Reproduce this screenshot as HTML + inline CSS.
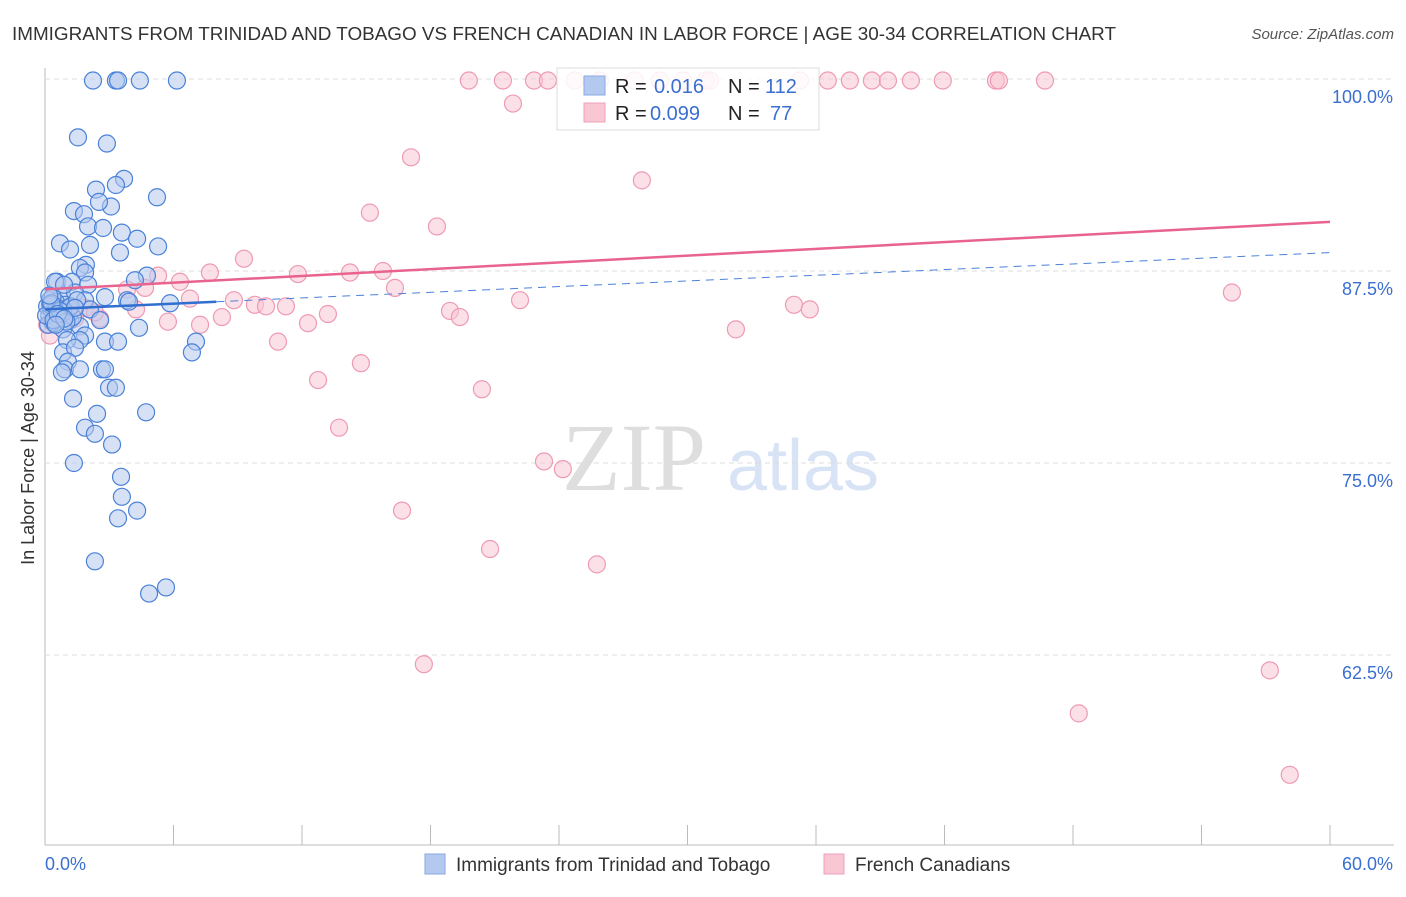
<!DOCTYPE html>
<html><head><meta charset="utf-8"><style>
body{margin:0;background:#fff;font-family:"Liberation Sans",sans-serif}
#c{position:relative;width:1406px;height:892px}
</style></head><body>
<div id="c">
<svg id="s" width="1406" height="892" xmlns="http://www.w3.org/2000/svg">
<text x="12" y="40" font-size="18.5" textLength="1104" lengthAdjust="spacingAndGlyphs" fill="#333" font-family="Liberation Sans">IMMIGRANTS FROM TRINIDAD AND TOBAGO VS FRENCH CANADIAN IN LABOR FORCE | AGE 30-34 CORRELATION CHART</text>
<text x="1394" y="39" font-size="15" fill="#555" font-style="italic" text-anchor="end">Source: ZipAtlas.com</text>
<text x="634" y="490" font-size="96" fill="#dedede" font-family="Liberation Serif" text-anchor="middle">ZIP</text>
<text x="803" y="490" font-size="72" fill="#d8e4f5" text-anchor="middle">atlas</text>
<text transform="translate(34,458) rotate(-90)" font-size="18" fill="#333" text-anchor="middle">In Labor Force | Age 30-34</text>
<g id="grid"></g><g id="pts"></g><g id="lines"></g>
<g>
<rect x="557" y="68" width="262" height="62" fill="#fff" fill-opacity="0.85" stroke="#ddd"/>
<rect x="584" y="76" width="21" height="19" fill="#b4c9ef" stroke="#8aa9e0"/>
<rect x="584" y="103" width="21" height="19" fill="#f9c6d4" stroke="#f0a0b8"/>
<text x="615" y="93" font-size="20" fill="#222">R =</text>
<text x="654" y="93" font-size="20" fill="#3a6fd0">0.016</text>
<text x="728" y="93" font-size="20" fill="#222">N =</text>
<text x="765" y="93" font-size="20" fill="#3a6fd0">112</text>
<text x="615" y="120" font-size="20" fill="#222">R =</text>
<text x="650" y="120" font-size="20" fill="#3a6fd0">0.099</text>
<text x="728" y="120" font-size="20" fill="#222">N =</text>
<text x="770" y="120" font-size="20" fill="#3a6fd0">77</text>
</g>
<g>
<rect x="425" y="854" width="20" height="20" fill="#b4c9ef" stroke="#8aa9e0"/>
<text x="456" y="871" font-size="19" fill="#333">Immigrants from Trinidad and Tobago</text>
<rect x="824" y="854" width="20" height="20" fill="#f9c6d4" stroke="#f0a0b8"/>
<text x="855" y="871" font-size="19" fill="#333">French Canadians</text>
</g>
</svg></div>
<script>
const yTicks=[100,87.5,75,62.5];
const yTickLabels=["100.0%","87.5%","75.0%","62.5%"];
const xTickLabels=["0.0%","60.0%"];
const blueX=[2.24,3.31,3.41,4.43,6.16,1.54,2.89,3.69,3.31,2.38,5.23,1.35,3.08,1.82,2.52,2.01,2.71,3.59,4.30,0.70,1.17,2.10,5.28,3.50,1.91,1.63,1.87,0.56,1.26,2.01,4.76,4.20,0.79,1.40,2.80,3.83,0.23,0.47,0.93,1.87,2.10,0.61,1.17,0.33,1.63,2.57,0.84,1.87,1.63,1.03,2.80,3.41,4.39,0.84,1.40,1.07,0.93,1.63,0.79,2.66,2.80,2.99,3.31,1.31,2.43,4.72,1.87,2.33,3.13,1.35,3.55,3.59,4.30,3.41,2.33,4.86,5.65,7.05,6.86,5.84,3.92,0.47,0.89,0.1,0.2,0.3,0.4,0.5,0.6,0.15,0.35,0.55,0.75,0.95,0.25,0.45,0.65,1.1,1.3,0.05,0.85,1.2,0.4,0.7,1.5,0.3,1.0,0.6,0.2,1.4,0.9,0.5];
const blueY=[99.9,99.9,99.9,99.9,99.9,96.2,95.8,93.5,93.1,92.8,92.3,91.4,91.7,91.2,92.0,90.4,90.3,90.0,89.6,89.3,88.9,89.2,89.1,88.7,87.9,87.7,87.4,86.8,86.8,86.6,87.2,86.9,85.9,86.1,85.8,85.6,85.6,85.0,85.3,85.6,85.0,84.4,84.3,84.2,83.9,84.3,83.7,83.3,83.0,83.0,82.9,82.9,83.8,82.2,82.5,81.6,81.1,81.1,80.9,81.1,81.1,79.9,79.9,79.2,78.2,78.3,77.3,76.9,76.2,75.0,74.1,72.8,71.9,71.4,68.6,66.5,66.9,82.9,82.2,85.4,85.5,86.8,86.6,85.2,84.6,85.0,84.2,85.5,84.8,84.0,85.8,84.4,85.0,84.7,85.3,84.1,84.9,85.1,84.5,84.6,84.8,85.2,84.3,84.9,85.6,85.4,84.2,84.7,85.9,85.1,84.4,84.0];
const pinkX=[19.79,21.38,22.83,23.48,24.74,25.91,27.54,28.71,29.79,30.86,31.05,35.25,36.55,37.58,38.61,39.36,40.43,41.92,44.40,44.54,46.69,21.85,17.09,27.87,15.17,18.30,9.29,7.70,11.81,14.24,15.78,6.30,5.28,4.67,3.83,16.34,8.82,6.77,9.80,10.32,11.25,22.18,18.91,19.37,13.21,12.28,8.26,7.24,5.74,4.25,2.57,10.88,14.75,12.75,20.40,13.73,23.30,24.18,16.67,20.78,25.77,17.69,32.26,34.97,35.71,55.42,57.19,48.27,58.12,0.23,0.79,1.17,1.40,0.47,1.87,2.33,0.1];
const pinkY=[99.9,99.9,99.9,99.9,99.9,99.9,99.9,99.9,99.9,99.9,99.9,99.9,99.9,99.9,99.9,99.9,99.9,99.9,99.9,99.9,99.9,98.4,94.9,93.4,91.3,90.4,88.3,87.4,87.3,87.4,87.5,86.8,87.2,86.4,86.3,86.4,85.6,85.7,85.3,85.2,85.2,85.6,84.9,84.5,84.7,84.1,84.5,84.0,84.2,85.0,84.4,82.9,81.5,80.4,79.8,77.3,75.1,74.6,71.9,69.4,68.4,61.9,83.7,85.3,85.0,86.1,61.5,58.7,54.7,83.3,84.6,85.0,84.4,85.3,85.1,84.8,84.0];
const blueTrend=[85.0,85.5,88.7]; // values at x=0, 8, 60
const pinkTrend=[86.3,90.7]; // values at x=0, 60
const X=v=>45+v/60*1285, Y=v=>79+(100-v)*15.36;
const NS="http://www.w3.org/2000/svg";
function mk(t,a,p){const e=document.createElementNS(NS,t);for(const k in a)e.setAttribute(k,a[k]);document.getElementById(p).appendChild(e);return e;}
let e=mk('line',{x1:45,y1:68,x2:45,y2:845,stroke:'#bbb'},'grid');


e=mk('line',{x1:45,y1:845,x2:1394,y2:845,stroke:'#bbb'},'grid');


for(let i=0;i<=10;i++){e=mk('line',{x1:X(i*6),y1:825,x2:X(i*6),y2:845,stroke:'#bbb'},'grid');

}
yTicks.forEach((v,i)=>{e=mk('line',{x1:45,y1:Y(v),x2:1394,y2:Y(v),stroke:'#ddd','stroke-dasharray':'5,4'},'grid');


e=mk('text',{x:1393,y:Y(v)+24,'font-size':18,fill:'#3a6fd0','text-anchor':'end'},'grid');e.textContent=yTickLabels[i];

});
e=mk('text',{x:45,y:870,'font-size':18,fill:'#3a6fd0'},'grid');e.textContent=xTickLabels[0];


e=mk('text',{x:1393,y:870,'font-size':18,fill:'#3a6fd0','text-anchor':'end'},'grid');e.textContent=xTickLabels[1];


pinkX.forEach((v,i)=>{e=mk('circle',{cx:X(v),cy:Y(pinkY[i]),r:8.5,fill:'#f9c6d4','fill-opacity':0.55,stroke:'#ee9ab4','stroke-width':1.2},'pts');

});
blueX.forEach((v,i)=>{e=mk('circle',{cx:X(v),cy:Y(blueY[i]),r:8.5,fill:'#b4c9ef','fill-opacity':0.55,stroke:'#4a82d8','stroke-width':1.2},'pts');

});
e=mk('line',{x1:X(0),y1:Y(pinkTrend[0]),x2:X(60),y2:Y(pinkTrend[1]),stroke:'#e8638e','stroke-width':2.5},'lines');


e=mk('line',{x1:X(8),y1:Y(blueTrend[1]),x2:X(60),y2:Y(blueTrend[2]),stroke:'#4a82d8','stroke-width':1,'stroke-dasharray':'8,6'},'lines');


e=mk('line',{x1:X(0),y1:Y(blueTrend[0]),x2:X(8),y2:Y(blueTrend[1]),stroke:'#2f6fd0','stroke-width':2.5},'lines');


</script>
</body></html>
